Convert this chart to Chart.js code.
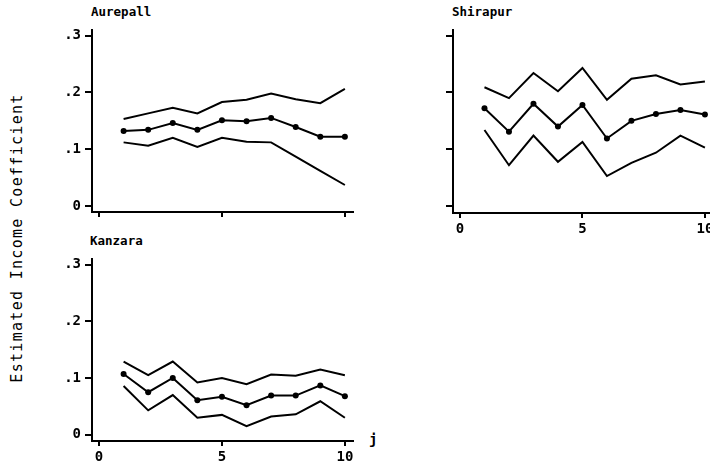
<!DOCTYPE html>
<html>
<head>
<meta charset="utf-8" />
<title>Estimated Income Coefficient</title>
<script src="https://cdn.jsdelivr.net/npm/chart.js"></script>
<style>
  html, body { margin: 0; padding: 0; background: #fff; width: 710px; height: 467px; overflow: hidden; }
  .panel { position: absolute; }
  .title { position: absolute; font-family: "DejaVu Sans Mono", monospace; font-weight: bold; font-size: 12.5px; color: #000; }
  #ytitle {
    position: absolute; left: 17px; top: 238px;
    transform: translate(-50%, -50%) rotate(-90deg);
    font-family: "DejaVu Sans Mono", monospace; font-size: 15px; letter-spacing: 1.3px;
    white-space: nowrap; color: #000;
  }
  #jlabel { position: absolute; left: 369px; top: 431px; font-family: "DejaVu Sans Mono", monospace; font-weight: bold; font-size: 14px; }
</style>
</head>
<body>

<div id="ytitle">Estimated Income Coefficient</div>
<div class="title" style="left:91px; top:4px;">Aurepall</div>
<div class="title" style="left:452px; top:4px;">Shirapur</div>
<div class="title" style="left:90px; top:233px;">Kanzara</div>
<div id="jlabel">j</div>

<canvas id="c1" class="panel"></canvas>
<canvas id="c2" class="panel"></canvas>
<canvas id="c3" class="panel"></canvas>

<script>
// j = 1..10
const J = [1, 2, 3, 4, 5, 6, 7, 8, 9, 10];

const AUREPALL_EST   = [0.132, 0.134, 0.146, 0.134, 0.151, 0.149, 0.155, 0.139, 0.122, 0.122];
const AUREPALL_UPPER = [0.153, 0.163, 0.173, 0.163, 0.183, 0.187, 0.198, 0.188, 0.181, 0.206];
const AUREPALL_LOWER = [0.112, 0.106, 0.120, 0.104, 0.120, 0.113, 0.112, 0.087, 0.062, 0.037];

const SHIRAPUR_EST   = [0.172, 0.131, 0.180, 0.140, 0.178, 0.119, 0.150, 0.162, 0.169, 0.161];
const SHIRAPUR_UPPER = [0.209, 0.190, 0.234, 0.202, 0.243, 0.187, 0.224, 0.230, 0.214, 0.219];
const SHIRAPUR_LOWER = [0.134, 0.072, 0.124, 0.078, 0.113, 0.053, 0.076, 0.094, 0.124, 0.103];

const KANZARA_EST    = [0.107, 0.075, 0.100, 0.061, 0.067, 0.052, 0.069, 0.069, 0.087, 0.068];
const KANZARA_UPPER  = [0.129, 0.105, 0.129, 0.092, 0.100, 0.089, 0.106, 0.104, 0.115, 0.105];
const KANZARA_LOWER  = [0.086, 0.043, 0.070, 0.030, 0.035, 0.015, 0.032, 0.036, 0.059, 0.030];

const X_TICKS = [0, 5, 10];
const Y_TICKS = [0, 0.1, 0.2, 0.3];
const Y_TICK_LABELS = ['0', '.1', '.2', '.3'];

const YW = 50, XH = 35, PAD_T = 12, PAD_R = 12;

function pts(arr) {
    return J.map((j, i) => ({ x: j, y: arr[i] }));
}

function makePanel(id, area, est, upper, lower, showX, showY) {
    const cv = document.getElementById(id);
    const w = area.right - area.left + YW + PAD_R;
    const h = area.bottom - area.top + PAD_T + XH;
    cv.style.left = (area.left - YW) + 'px';
    cv.style.top = (area.top - PAD_T) + 'px';
    cv.style.width = w + 'px';
    cv.style.height = h + 'px';
    cv.width = w;
    cv.height = h;

    const line = (data, withDots) => ({
        data: pts(data),
        borderColor: '#000',
        backgroundColor: '#000',
        borderWidth: 2,
        pointRadius: withDots ? 3 : 0,
        pointBorderWidth: 0,
        tension: 0
    });

    new Chart(cv.getContext('2d'), {
        type: 'line',
        data: {
            datasets: [line(upper, false), line(est, true), line(lower, false)]
        },
        options: {
            responsive: false,
            animation: false,
            events: [],
            layout: { padding: { top: PAD_T, right: PAD_R, left: 0, bottom: 0 } },
            plugins: { legend: { display: false }, tooltip: { enabled: false } },
            scales: {
                x: {
                    type: 'linear',
                    min: -0.285, max: 10.33,
                    afterBuildTicks: s => { s.ticks = X_TICKS.map(v => ({ value: v })); },
                    afterFit: s => { s.height = XH; },
                    grid: { display: true, drawOnChartArea: false, drawTicks: true, tickLength: 5, color: '#000', lineWidth: 2 },
                    border: { display: true, color: '#000', width: 2 },
                    ticks: {
                        autoSkip: false, maxRotation: 0, padding: 3, color: '#000',
                        font: { family: 'DejaVu Sans Mono', size: 14, weight: 'bold' },
                        callback: v => showX ? String(v) : ''
                    }
                },
                y: {
                    min: area.ymin, max: area.ymax,
                    afterBuildTicks: s => { s.ticks = Y_TICKS.map(v => ({ value: v })); },
                    afterFit: s => { s.width = YW; },
                    grid: { display: true, drawOnChartArea: false, drawTicks: true, tickLength: 7, color: '#000', lineWidth: 2 },
                    border: { display: true, color: '#000', width: 2 },
                    ticks: {
                        autoSkip: false, padding: 4, color: '#000',
                        font: { family: 'DejaVu Sans Mono', size: 14, weight: 'bold' },
                        callback: v => {
                            if (!showY) return '';
                            const k = Y_TICKS.findIndex(t => Math.abs(t - v) < 1e-9);
                            return k >= 0 ? Y_TICK_LABELS[k] : '';
                        }
                    }
                }
            }
        }
    });
}

makePanel('c1', { left: 92, right: 353, top: 30, bottom: 212, ymin: -0.0105, ymax: 0.309 },
    AUREPALL_EST, AUREPALL_UPPER, AUREPALL_LOWER, false, true);
makePanel('c2', { left: 453, right: 713, top: 30, bottom: 213, ymin: -0.012, ymax: 0.309 },
    SHIRAPUR_EST, SHIRAPUR_UPPER, SHIRAPUR_LOWER, true, false);
makePanel('c3', { left: 92, right: 353, top: 259, bottom: 441, ymin: -0.011, ymax: 0.309 },
    KANZARA_EST, KANZARA_UPPER, KANZARA_LOWER, true, true);
</script>
</body>
</html>
